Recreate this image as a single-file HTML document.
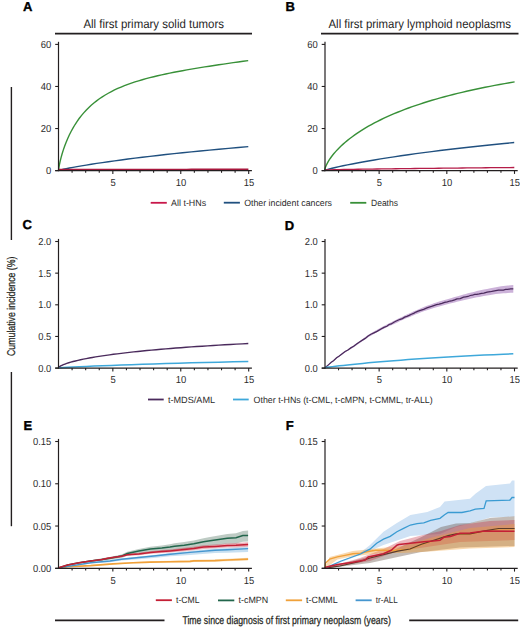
<!DOCTYPE html><html><head><meta charset="utf-8"><style>html,body{margin:0;padding:0;background:#fff;width:520px;height:632px;overflow:hidden}svg{display:block}
text{font-family:'Liberation Sans',sans-serif;fill:#231f20;text-rendering:geometricPrecision}
.tk{font-size:10.2px;fill:#2b2b2b}.lg{font-size:9.1px;fill:#2b2b2b}.pl{font-size:13px;font-weight:bold;fill:#000;stroke:#000;stroke-width:0.35px}.ti{font-size:12.2px;fill:#262626}.cx{font-size:11.3px;stroke:#231f20;stroke-width:0.25px}
</style></head><body>
<svg width="520" height="632" viewBox="0 0 520 632">
<text x="23" y="11" class="pl">A</text>
<text x="285.6" y="11" class="pl">B</text>
<text x="22.6" y="229.4" class="pl">C</text>
<text x="284.8" y="229.5" class="pl">D</text>
<text x="23.6" y="429.9" class="pl">E</text>
<text x="285.8" y="430" class="pl">F</text>
<text x="83.4" y="27.8" class="ti" textLength="140.6" lengthAdjust="spacingAndGlyphs">All first primary solid tumors</text>
<text x="328.5" y="27.8" class="ti" textLength="182.5" lengthAdjust="spacingAndGlyphs">All first primary lymphoid neoplasms</text>
<line x1="55" y1="33.6" x2="252" y2="33.6" stroke="#231f20" stroke-width="1.8"/>
<line x1="321" y1="33.6" x2="518.5" y2="33.6" stroke="#231f20" stroke-width="1.8"/>
<path d="M58.50 170.60 L58.77 168.34 L59.32 165.16 L60.07 161.61 L60.99 157.86 L62.06 154.01 L63.27 150.13 L64.60 146.25 L66.05 142.43 L67.62 138.68 L69.29 135.03 L71.07 131.48 L72.94 128.06 L74.92 124.75 L76.99 121.58 L79.14 118.54 L81.39 115.63 L83.72 112.85 L86.14 110.21 L88.63 107.69 L91.21 105.29 L93.87 103.01 L96.60 100.85 L99.41 98.79 L102.29 96.85 L105.24 94.99 L108.27 93.24 L111.37 91.57 L114.54 89.99 L117.77 88.48 L121.08 87.05 L124.45 85.68 L127.88 84.38 L131.39 83.14 L134.95 81.96 L138.58 80.82 L142.27 79.73 L146.03 78.69 L149.84 77.68 L153.72 76.71 L157.66 75.78 L161.65 74.87 L165.71 73.99 L169.82 73.14 L173.99 72.30 L178.22 71.49 L182.50 70.70 L186.85 69.92 L191.24 69.16 L195.70 68.40 L200.20 67.66 L204.76 66.93 L209.38 66.21 L214.05 65.49 L218.77 64.78 L223.55 64.07 L228.37 63.37 L233.25 62.67 L238.18 61.97 L243.17 61.28 L248.20 60.58" fill="none" stroke="#389038" stroke-width="1.4"/>
<path d="M58.60 170.50 L59.42 170.24 L61.09 169.81 L63.37 169.29 L66.15 168.70 L69.39 168.06 L73.04 167.37 L77.09 166.64 L81.49 165.87 L86.24 165.08 L91.31 164.27 L96.70 163.43 L102.39 162.58 L108.37 161.72 L114.64 160.84 L121.18 159.95 L127.98 159.06 L135.05 158.16 L142.37 157.26 L149.94 156.36 L157.76 155.45 L165.81 154.55 L174.09 153.65 L182.60 152.75 L191.34 151.86 L200.30 150.97 L209.48 150.09 L218.87 149.22 L228.47 148.35 L238.28 147.50 L248.30 146.65" fill="none" stroke="#20507f" stroke-width="1.4"/>
<path d="M58.50 169.60 L63.25 169.58 L68.00 169.57 L72.74 169.56 L77.49 169.55 L82.24 169.54 L86.98 169.53 L91.73 169.53 L96.48 169.52 L101.23 169.51 L105.97 169.50 L110.72 169.49 L115.47 169.49 L120.22 169.48 L124.97 169.47 L129.71 169.46 L134.46 169.46 L139.21 169.45 L143.95 169.44 L148.70 169.43 L153.45 169.43 L158.20 169.42 L162.94 169.41 L167.69 169.41 L172.44 169.40 L177.19 169.39 L181.94 169.39 L186.68 169.38 L191.43 169.37 L196.18 169.37 L200.93 169.36 L205.67 169.36 L210.42 169.35 L215.17 169.34 L219.91 169.34 L224.66 169.33 L229.41 169.32 L234.16 169.32 L238.91 169.31 L243.65 169.31 L248.40 169.30" fill="none" stroke="#a8173c" stroke-width="1.5"/>
<path d="M324.60 170.50 L324.87 169.04 L325.42 167.31 L326.17 165.47 L327.09 163.58 L328.17 161.65 L329.37 159.70 L330.71 157.74 L332.16 155.77 L333.73 153.81 L335.41 151.85 L337.19 149.90 L339.07 147.96 L341.04 146.04 L343.11 144.13 L345.28 142.24 L347.52 140.37 L349.86 138.52 L352.28 136.69 L354.78 134.89 L357.36 133.11 L360.02 131.35 L362.76 129.62 L365.57 127.91 L368.46 126.22 L371.42 124.57 L374.45 122.93 L377.55 121.33 L380.73 119.75 L383.97 118.19 L387.28 116.66 L390.65 115.16 L394.09 113.68 L397.60 112.23 L401.17 110.80 L404.81 109.40 L408.51 108.02 L412.27 106.67 L416.09 105.34 L419.97 104.04 L423.91 102.76 L427.92 101.51 L431.98 100.28 L436.10 99.07 L440.27 97.89 L444.51 96.73 L448.80 95.59 L453.15 94.47 L457.55 93.38 L462.01 92.31 L466.53 91.26 L471.10 90.23 L475.72 89.22 L480.39 88.24 L485.12 87.27 L489.91 86.32 L494.74 85.40 L499.63 84.49 L504.57 83.60 L509.56 82.73 L514.60 81.88" fill="none" stroke="#389038" stroke-width="1.4"/>
<path d="M324.60 170.50 L325.42 170.18 L327.09 169.65 L329.36 169.02 L332.15 168.30 L335.38 167.52 L339.04 166.68 L343.08 165.80 L347.48 164.89 L352.22 163.94 L357.29 162.97 L362.68 161.98 L368.37 160.97 L374.35 159.95 L380.61 158.91 L387.14 157.87 L393.95 156.82 L401.01 155.77 L408.33 154.72 L415.90 153.67 L423.70 152.62 L431.75 151.58 L440.03 150.54 L448.54 149.51 L457.27 148.48 L466.23 147.46 L475.40 146.46 L484.79 145.46 L494.38 144.48 L504.19 143.51 L514.20 142.55" fill="none" stroke="#20507f" stroke-width="1.4"/>
<path d="M325.10 170.00 L329.83 169.81 L334.56 169.69 L339.29 169.59 L344.02 169.50 L348.75 169.42 L353.48 169.34 L358.21 169.26 L362.94 169.19 L367.67 169.12 L372.40 169.05 L377.13 168.99 L381.86 168.92 L386.59 168.86 L391.32 168.80 L396.05 168.74 L400.78 168.68 L405.51 168.63 L410.24 168.57 L414.97 168.52 L419.70 168.46 L424.43 168.41 L429.16 168.35 L433.89 168.30 L438.62 168.25 L443.35 168.20 L448.08 168.15 L452.81 168.10 L457.54 168.05 L462.27 168.00 L467.00 167.96 L471.73 167.91 L476.46 167.86 L481.19 167.81 L485.92 167.77 L490.65 167.72 L495.38 167.68 L500.11 167.63 L504.84 167.59 L509.57 167.54 L514.30 167.50" fill="none" stroke="#b51c48" stroke-width="1.3"/>
<path d="M58.60 367.80 L58.96 367.22 L59.70 366.59 L60.70 365.96 L61.93 365.32 L63.37 364.68 L64.98 364.04 L66.76 363.41 L68.71 362.78 L70.80 362.16 L73.04 361.55 L75.42 360.95 L77.94 360.35 L80.58 359.76 L83.35 359.18 L86.24 358.60 L89.24 358.04 L92.36 357.48 L95.60 356.93 L98.94 356.39 L102.39 355.86 L105.94 355.34 L109.60 354.82 L113.36 354.31 L117.22 353.82 L121.18 353.33 L125.23 352.84 L129.38 352.37 L133.62 351.91 L137.95 351.45 L142.37 351.00 L146.89 350.56 L151.49 350.12 L156.17 349.70 L160.95 349.28 L165.81 348.87 L170.75 348.46 L175.78 348.07 L180.88 347.68 L186.07 347.29 L191.34 346.92 L196.69 346.55 L202.12 346.19 L207.63 345.83 L213.21 345.48 L218.87 345.14 L224.61 344.81 L230.42 344.48 L236.31 344.15 L242.27 343.84 L248.30 343.52" fill="none" stroke="#4a2a5c" stroke-width="1.4"/>
<path d="M58.60 367.80 L60.17 367.72 L63.37 367.56 L67.72 367.34 L73.04 367.08 L79.24 366.79 L86.24 366.47 L93.97 366.12 L102.39 365.77 L111.47 365.40 L121.18 365.03 L131.49 364.65 L142.37 364.28 L153.82 363.91 L165.81 363.54 L178.32 363.18 L191.34 362.83 L204.86 362.50 L218.87 362.17 L233.35 361.86 L248.30 361.57" fill="none" stroke="#3ea8da" stroke-width="1.5"/>
<path d="M325.10 367.30 L328.94 363.94 L331.22 361.96 L333.50 359.99 L336.56 357.46 L339.30 355.30 L342.21 353.10 L345.10 351.02 L347.95 349.16 L350.80 347.33 L353.69 345.31 L356.60 343.24 L359.51 341.19 L362.40 339.14 L365.25 337.06 L368.10 335.05 L370.91 333.29 L373.90 331.55 L377.03 329.73 L381.00 327.53 L383.93 325.98 L386.86 324.43 L389.07 323.29 L391.29 322.15 L393.50 321.01 L395.71 319.91 L397.93 318.82 L400.14 317.72 L402.39 316.64 L404.65 315.56 L406.90 314.48 L409.15 313.44 L411.40 312.41 L413.65 311.37 L415.90 310.39 L418.15 309.42 L420.40 308.44 L423.67 307.12 L426.93 305.79 L429.22 304.96 L431.51 304.13 L433.80 303.29 L436.50 302.45 L439.20 301.61 L441.89 300.76 L444.60 299.98 L447.30 299.19 L450.00 298.40 L452.31 297.72 L454.62 297.05 L456.93 296.38 L460.21 295.46 L463.50 294.55 L465.73 293.95 L467.97 293.35 L470.20 292.76 L472.43 292.20 L474.67 291.65 L476.90 291.09 L479.21 290.59 L481.51 290.08 L483.82 289.57 L487.11 288.90 L490.40 288.24 L493.12 287.71 L495.83 287.18 L498.47 286.76 L501.10 286.33 L503.36 286.09 L505.61 285.84 L507.87 285.60 L510.58 285.35 L513.30 285.10 L513.30 292.70 L510.58 292.84 L507.87 292.99 L505.61 293.15 L503.36 293.31 L501.10 293.47 L498.47 293.79 L495.83 294.12 L493.12 294.54 L490.40 294.96 L487.11 295.50 L483.82 296.04 L481.51 296.46 L479.21 296.88 L476.90 297.31 L474.67 297.78 L472.43 298.25 L470.20 298.72 L467.97 299.23 L465.73 299.74 L463.50 300.25 L460.21 301.05 L456.93 301.84 L454.62 302.43 L452.31 303.02 L450.00 303.60 L447.30 304.29 L444.60 304.98 L441.89 305.67 L439.20 306.42 L436.50 307.16 L433.80 307.91 L431.51 308.66 L429.22 309.41 L426.93 310.16 L423.67 311.36 L420.40 312.56 L418.15 313.46 L415.90 314.36 L413.65 315.25 L411.40 316.21 L409.15 317.17 L406.90 318.12 L404.65 319.12 L402.39 320.12 L400.14 321.12 L397.93 322.14 L395.71 323.16 L393.50 324.19 L391.29 325.25 L389.07 326.31 L386.86 327.37 L383.93 328.82 L381.00 330.27 L377.03 332.33 L373.90 334.05 L370.91 335.69 L368.10 337.35 L365.25 339.27 L362.40 341.26 L359.51 343.21 L356.60 345.16 L353.69 347.14 L350.80 349.07 L347.95 350.81 L345.10 352.58 L342.21 354.58 L339.30 356.70 L336.56 358.77 L333.50 361.21 L331.22 363.12 L328.94 365.04 L325.10 368.30 Z" fill="#ccb2d9" stroke="none"/>
<path d="M325.10 367.80 L328.94 364.36 L331.22 362.30 L333.50 360.71 L336.56 357.81 L339.30 356.03 L342.21 353.74 L345.10 351.49 L347.95 349.99 L350.80 347.88 L353.69 346.18 L356.60 343.90 L359.51 341.91 L362.40 340.15 L365.25 338.39 L368.10 335.94 L370.91 334.30 L373.90 332.89 L377.03 331.34 L381.00 328.95 L383.93 327.33 L386.86 326.23 L389.07 324.48 L391.29 323.95 L393.50 322.45 L395.71 321.29 L397.93 320.21 L400.14 319.28 L402.39 318.60 L404.65 317.12 L406.90 316.36 L409.15 315.40 L411.40 314.22 L413.65 313.35 L415.90 312.07 L418.15 311.13 L420.40 310.29 L423.67 309.36 L426.93 307.92 L429.22 307.05 L431.51 306.45 L433.80 305.57 L436.50 304.67 L439.20 304.22 L441.89 303.36 L444.60 302.30 L447.30 301.79 L450.00 301.02 L452.31 300.63 L454.62 299.90 L456.93 298.96 L460.21 298.59 L463.50 297.13 L465.73 296.79 L467.97 296.47 L470.20 295.49 L472.43 295.22 L474.67 294.39 L476.90 294.32 L479.21 293.92 L481.51 293.32 L483.82 293.07 L487.11 292.07 L490.40 291.74 L493.12 291.19 L495.83 290.71 L498.47 290.24 L501.10 290.14 L503.36 290.01 L505.61 289.48 L507.87 289.41 L510.58 288.79 L513.30 288.90" fill="none" stroke="#4a2a5c" stroke-width="1.25"/>
<path d="M324.90 367.60 L325.72 367.48 L327.37 367.26 L329.63 366.97 L332.40 366.63 L335.62 366.25 L339.25 365.83 L343.26 365.38 L347.63 364.91 L352.35 364.42 L357.39 363.91 L362.74 363.39 L368.39 362.86 L374.33 362.32 L380.55 361.78 L387.05 361.23 L393.81 360.69 L400.83 360.15 L408.10 359.61 L415.62 359.07 L423.38 358.54 L431.37 358.02 L439.60 357.51 L448.05 357.01 L456.73 356.52 L465.63 356.04 L474.75 355.57 L484.07 355.12 L493.61 354.68 L503.35 354.25 L513.30 353.83" fill="none" stroke="#3ea8da" stroke-width="1.5"/>
<path d="M58.60 567.72 L67.50 564.76 L79.10 562.21 L90.60 560.16 L102.10 558.29 L110.00 556.91 L121.50 554.53 L127.30 551.79 L138.80 549.10 L150.40 546.81 L161.90 545.52 L170.00 544.31 L174.60 543.29 L184.20 542.04 L193.80 540.39 L203.50 538.14 L210.00 536.96 L218.70 535.43 L227.30 533.90 L236.00 533.17 L242.90 530.88 L248.10 530.54 L248.10 541.61 L242.90 541.63 L236.00 543.49 L227.30 543.69 L218.70 544.70 L210.00 545.70 L203.50 546.48 L193.80 548.15 L184.20 549.23 L174.60 549.92 L170.00 550.66 L161.90 551.40 L150.40 552.02 L138.80 553.65 L127.30 555.69 L121.50 558.11 L110.00 559.85 L102.10 560.81 L90.60 562.08 L79.10 563.55 L67.50 565.54 L58.60 568.13 Z" fill="#b3c2ba" fill-opacity="0.85"/>
<path d="M58.60 567.70 L59.50 567.28 L67.50 564.77 L79.10 562.32 L90.60 560.38 L102.10 558.64 L107.90 557.37 L116.00 556.18 L121.50 555.32 L127.30 553.76 L138.80 552.83 L150.40 551.21 L161.90 550.08 L170.00 549.40 L174.60 548.95 L184.20 547.85 L193.80 546.85 L203.50 545.25 L215.00 544.43 L227.30 543.41 L236.00 543.12 L248.10 542.20 L248.10 546.80 L236.00 547.48 L227.30 547.59 L215.00 548.37 L203.50 548.95 L193.80 550.35 L184.20 551.15 L174.60 552.05 L170.00 552.40 L161.90 552.92 L150.40 553.79 L138.80 555.17 L127.30 555.84 L121.50 557.28 L116.00 558.02 L107.90 559.03 L102.10 560.16 L90.60 561.62 L79.10 563.28 L67.50 565.43 L59.50 567.72 L58.60 568.10 Z" fill="#c41f35" fill-opacity="0.36"/>
<path d="M58.60 567.76 L90.60 562.19 L110.00 560.30 L121.50 558.39 L138.80 556.52 L156.10 554.66 L170.00 552.93 L190.00 550.95 L215.00 548.53 L227.30 547.92 L248.10 546.64 L248.10 551.96 L227.30 552.75 L215.00 553.06 L190.00 554.88 L170.00 556.37 L156.10 557.76 L138.80 559.18 L121.50 560.60 L110.00 562.20 L90.60 563.57 L58.60 568.14 Z" fill="#4596cf" fill-opacity="0.30"/>
<path d="M58.60 567.70 L67.50 566.50 L90.60 565.11 L113.00 563.26 L133.10 561.93 L150.40 561.23 L170.00 560.82 L190.00 560.30 L193.80 559.78 L215.00 559.37 L227.30 558.71 L248.10 557.70 L248.10 560.50 L227.30 561.29 L215.00 561.83 L193.80 562.02 L190.00 562.50 L170.00 562.78 L150.40 562.97 L133.10 563.47 L113.00 564.54 L90.60 566.09 L67.50 567.10 L58.60 568.10 Z" fill="#f0a13a" fill-opacity="0.30"/>
<path d="M58.60 567.90 L67.50 566.80 L90.60 565.60 L113.00 563.90 L133.10 562.70 L150.40 562.10 L170.00 561.80 L190.00 561.40 L193.80 560.90 L215.00 560.60 L227.30 560.00 L248.10 559.10" fill="none" stroke="#f0a13a" stroke-width="1.6"/>
<path d="M58.60 567.90 L90.60 562.70 L110.00 561.00 L121.50 559.20 L138.80 557.50 L156.10 555.80 L170.00 554.20 L190.00 552.40 L215.00 550.20 L227.30 549.70 L248.10 548.60" fill="none" stroke="#4596cf" stroke-width="1.4"/>
<path d="M58.60 567.90 L67.50 565.10 L79.10 562.80 L90.60 561.00 L102.10 559.40 L110.00 558.20 L121.50 556.10 L127.30 553.50 L138.80 551.10 L150.40 549.10 L161.90 548.10 L170.00 547.10 L174.60 546.20 L184.20 545.20 L193.80 543.80 L203.50 541.80 L210.00 540.80 L218.70 539.50 L227.30 538.20 L236.00 537.70 L242.90 535.60 L248.10 535.40" fill="none" stroke="#22664c" stroke-width="1.5"/>
<path d="M58.60 567.90 L59.50 567.50 L67.50 565.10 L79.10 562.80 L90.60 561.00 L102.10 559.40 L107.90 558.20 L116.00 557.10 L121.50 556.30 L127.30 554.80 L138.80 554.00 L150.40 552.50 L161.90 551.50 L170.00 550.90 L174.60 550.50 L184.20 549.50 L193.80 548.60 L203.50 547.10 L215.00 546.40 L227.30 545.50 L236.00 545.30 L248.10 544.50" fill="none" stroke="#c41f35" stroke-width="1.5"/>
<path d="M325.10 568.00 L360.00 553.00 L370.00 545.00 L383.50 531.70 L396.90 523.00 L410.40 514.90 L427.30 511.90 L440.00 507.00 L444.60 501.50 L470.00 498.70 L475.40 493.80 L486.00 486.00 L510.00 483.50 L512.00 480.50 L514.50 480.50 L514.50 516.50 L490.00 517.50 L470.00 523.40 L456.00 527.00 L440.00 534.00 L410.40 536.00 L383.50 545.00 L365.00 553.00 L325.10 568.50 Z" fill="#cfe2f5"/>
<path d="M325.10 568.00 L360.00 559.00 L393.80 550.00 L421.50 537.00 L441.00 527.00 L456.00 523.40 L470.00 522.90 L490.00 518.00 L514.50 516.20 L514.50 546.00 L460.00 547.50 L420.00 552.30 L397.70 557.00 L370.00 563.00 L325.10 568.50 Z" fill="#6a5448" fill-opacity="0.40"/>
<path d="M325.10 568.00 L360.00 558.00 L383.50 549.00 L400.00 541.00 L423.00 535.00 L441.00 531.00 L460.00 525.00 L490.00 521.00 L514.50 520.00 L514.50 540.00 L460.00 542.00 L420.00 548.00 L397.70 551.00 L370.00 561.00 L325.10 568.50 Z" fill="#c41f35" fill-opacity="0.32"/>
<path d="M325.10 568.00 L329.70 557.00 L352.80 551.00 L383.50 547.70 L402.00 546.00 L430.00 538.00 L470.00 528.00 L514.50 524.00 L514.50 547.00 L470.00 548.50 L430.00 551.50 L402.00 553.00 L383.50 553.10 L352.80 556.20 L337.40 559.50 L325.10 568.50 Z" fill="#f0a13a" fill-opacity="0.40"/>
<path d="M325.10 568.20 L325.60 563.10 L329.70 559.20 L337.40 556.90 L345.10 555.40 L352.80 553.80 L360.50 553.10 L368.20 551.50 L375.80 550.30 L383.50 550.30 L391.20 550.80 L402.00 549.70 L410.00 549.20 L421.50 544.50 L448.10 535.90 L456.10 534.10 L470.00 534.10 L484.60 531.10 L498.50 528.80 L514.50 528.80" fill="none" stroke="#f0a13a" stroke-width="1.4"/>
<path d="M325.10 568.20 L340.00 566.00 L360.00 561.50 L370.00 558.00 L397.70 551.20 L410.00 549.00 L421.50 544.20 L448.10 535.60 L456.10 533.80 L470.00 533.80 L484.60 530.80 L498.50 528.50 L514.50 528.50" fill="none" stroke="#5a3c2c" stroke-width="1.2"/>
<path d="M325.10 568.20 L341.20 561.00 L350.80 557.50 L360.50 554.00 L365.00 551.50 L370.00 549.20 L376.70 543.20 L383.50 539.10 L390.20 536.40 L396.90 531.70 L403.60 528.40 L410.40 525.00 L417.10 523.60 L423.80 522.90 L430.60 520.30 L440.00 518.30 L444.60 514.80 L448.10 512.50 L461.90 512.50 L470.00 510.80 L475.40 509.20 L484.00 508.50 L486.20 500.80 L510.00 500.20 L512.00 497.50 L514.50 497.50" fill="none" stroke="#3a9bd2" stroke-width="1.3"/>
<path d="M325.10 568.20 L325.80 567.20 L337.40 564.60 L352.80 562.30 L365.10 560.00 L368.20 556.90 L383.50 553.80 L391.20 550.30 L396.90 545.20 L398.90 544.60 L410.40 543.20 L423.80 541.80 L433.10 541.00 L440.00 540.30 L443.80 537.30 L450.40 536.50 L460.00 533.20 L470.00 533.00 L484.60 530.90 L514.50 531.30" fill="none" stroke="#c41f35" stroke-width="1.5"/>
<line x1="58.50" y1="41.80" x2="58.50" y2="171.20" stroke="#231f20" stroke-width="1.2"/>
<line x1="55.20" y1="170.60" x2="251.90" y2="170.60" stroke="#231f20" stroke-width="1.2"/>
<line x1="55.20" y1="170.60" x2="58.50" y2="170.60" stroke="#231f20" stroke-width="1.1"/>
<text x="51.20" y="174.15" text-anchor="end" class="tk" textLength="5.25" lengthAdjust="spacingAndGlyphs">0</text>
<line x1="55.20" y1="128.53" x2="58.50" y2="128.53" stroke="#231f20" stroke-width="1.1"/>
<text x="51.20" y="132.08" text-anchor="end" class="tk" textLength="10.50" lengthAdjust="spacingAndGlyphs">20</text>
<line x1="55.20" y1="86.47" x2="58.50" y2="86.47" stroke="#231f20" stroke-width="1.1"/>
<text x="51.20" y="90.02" text-anchor="end" class="tk" textLength="10.50" lengthAdjust="spacingAndGlyphs">40</text>
<line x1="55.20" y1="44.40" x2="58.50" y2="44.40" stroke="#231f20" stroke-width="1.1"/>
<text x="51.20" y="47.95" text-anchor="end" class="tk" textLength="10.50" lengthAdjust="spacingAndGlyphs">60</text>
<line x1="72.09" y1="170.60" x2="72.09" y2="172.80" stroke="#231f20" stroke-width="1.1"/>
<line x1="85.67" y1="170.60" x2="85.67" y2="172.80" stroke="#231f20" stroke-width="1.1"/>
<line x1="99.26" y1="170.60" x2="99.26" y2="172.80" stroke="#231f20" stroke-width="1.1"/>
<line x1="112.84" y1="170.60" x2="112.84" y2="173.90" stroke="#231f20" stroke-width="1.1"/>
<text x="113.04" y="185.90" text-anchor="middle" class="tk" textLength="5.25" lengthAdjust="spacingAndGlyphs">5</text>
<line x1="126.43" y1="170.60" x2="126.43" y2="172.80" stroke="#231f20" stroke-width="1.1"/>
<line x1="140.01" y1="170.60" x2="140.01" y2="172.80" stroke="#231f20" stroke-width="1.1"/>
<line x1="153.60" y1="170.60" x2="153.60" y2="172.80" stroke="#231f20" stroke-width="1.1"/>
<line x1="167.19" y1="170.60" x2="167.19" y2="172.80" stroke="#231f20" stroke-width="1.1"/>
<line x1="180.77" y1="170.60" x2="180.77" y2="173.90" stroke="#231f20" stroke-width="1.1"/>
<text x="180.97" y="185.90" text-anchor="middle" class="tk" textLength="10.50" lengthAdjust="spacingAndGlyphs">10</text>
<line x1="194.36" y1="170.60" x2="194.36" y2="172.80" stroke="#231f20" stroke-width="1.1"/>
<line x1="207.94" y1="170.60" x2="207.94" y2="172.80" stroke="#231f20" stroke-width="1.1"/>
<line x1="221.53" y1="170.60" x2="221.53" y2="172.80" stroke="#231f20" stroke-width="1.1"/>
<line x1="235.11" y1="170.60" x2="235.11" y2="172.80" stroke="#231f20" stroke-width="1.1"/>
<line x1="248.70" y1="170.60" x2="248.70" y2="173.90" stroke="#231f20" stroke-width="1.1"/>
<text x="248.90" y="185.90" text-anchor="middle" class="tk" textLength="10.50" lengthAdjust="spacingAndGlyphs">15</text>
<line x1="325.00" y1="41.80" x2="325.00" y2="171.20" stroke="#231f20" stroke-width="1.2"/>
<line x1="321.70" y1="170.60" x2="517.70" y2="170.60" stroke="#231f20" stroke-width="1.2"/>
<line x1="321.70" y1="170.60" x2="325.00" y2="170.60" stroke="#231f20" stroke-width="1.1"/>
<text x="317.70" y="174.15" text-anchor="end" class="tk" textLength="5.25" lengthAdjust="spacingAndGlyphs">0</text>
<line x1="321.70" y1="128.53" x2="325.00" y2="128.53" stroke="#231f20" stroke-width="1.1"/>
<text x="317.70" y="132.08" text-anchor="end" class="tk" textLength="10.50" lengthAdjust="spacingAndGlyphs">20</text>
<line x1="321.70" y1="86.47" x2="325.00" y2="86.47" stroke="#231f20" stroke-width="1.1"/>
<text x="317.70" y="90.02" text-anchor="end" class="tk" textLength="10.50" lengthAdjust="spacingAndGlyphs">40</text>
<line x1="321.70" y1="44.40" x2="325.00" y2="44.40" stroke="#231f20" stroke-width="1.1"/>
<text x="317.70" y="47.95" text-anchor="end" class="tk" textLength="10.50" lengthAdjust="spacingAndGlyphs">60</text>
<line x1="338.54" y1="170.60" x2="338.54" y2="172.80" stroke="#231f20" stroke-width="1.1"/>
<line x1="352.07" y1="170.60" x2="352.07" y2="172.80" stroke="#231f20" stroke-width="1.1"/>
<line x1="365.61" y1="170.60" x2="365.61" y2="172.80" stroke="#231f20" stroke-width="1.1"/>
<line x1="379.14" y1="170.60" x2="379.14" y2="173.90" stroke="#231f20" stroke-width="1.1"/>
<text x="379.34" y="185.90" text-anchor="middle" class="tk" textLength="5.25" lengthAdjust="spacingAndGlyphs">5</text>
<line x1="392.68" y1="170.60" x2="392.68" y2="172.80" stroke="#231f20" stroke-width="1.1"/>
<line x1="406.21" y1="170.60" x2="406.21" y2="172.80" stroke="#231f20" stroke-width="1.1"/>
<line x1="419.75" y1="170.60" x2="419.75" y2="172.80" stroke="#231f20" stroke-width="1.1"/>
<line x1="433.29" y1="170.60" x2="433.29" y2="172.80" stroke="#231f20" stroke-width="1.1"/>
<line x1="446.82" y1="170.60" x2="446.82" y2="173.90" stroke="#231f20" stroke-width="1.1"/>
<text x="447.02" y="185.90" text-anchor="middle" class="tk" textLength="10.50" lengthAdjust="spacingAndGlyphs">10</text>
<line x1="460.36" y1="170.60" x2="460.36" y2="172.80" stroke="#231f20" stroke-width="1.1"/>
<line x1="473.89" y1="170.60" x2="473.89" y2="172.80" stroke="#231f20" stroke-width="1.1"/>
<line x1="487.43" y1="170.60" x2="487.43" y2="172.80" stroke="#231f20" stroke-width="1.1"/>
<line x1="500.96" y1="170.60" x2="500.96" y2="172.80" stroke="#231f20" stroke-width="1.1"/>
<line x1="514.50" y1="170.60" x2="514.50" y2="173.90" stroke="#231f20" stroke-width="1.1"/>
<text x="514.70" y="185.90" text-anchor="middle" class="tk" textLength="10.50" lengthAdjust="spacingAndGlyphs">15</text>
<line x1="58.50" y1="238.90" x2="58.50" y2="368.70" stroke="#231f20" stroke-width="1.2"/>
<line x1="55.20" y1="368.10" x2="251.90" y2="368.10" stroke="#231f20" stroke-width="1.2"/>
<line x1="55.20" y1="368.10" x2="58.50" y2="368.10" stroke="#231f20" stroke-width="1.1"/>
<text x="51.20" y="371.65" text-anchor="end" class="tk" textLength="13.00" lengthAdjust="spacingAndGlyphs">0.0</text>
<line x1="55.20" y1="336.45" x2="58.50" y2="336.45" stroke="#231f20" stroke-width="1.1"/>
<text x="51.20" y="340.00" text-anchor="end" class="tk" textLength="13.00" lengthAdjust="spacingAndGlyphs">0.5</text>
<line x1="55.20" y1="304.80" x2="58.50" y2="304.80" stroke="#231f20" stroke-width="1.1"/>
<text x="51.20" y="308.35" text-anchor="end" class="tk" textLength="13.00" lengthAdjust="spacingAndGlyphs">1.0</text>
<line x1="55.20" y1="273.15" x2="58.50" y2="273.15" stroke="#231f20" stroke-width="1.1"/>
<text x="51.20" y="276.70" text-anchor="end" class="tk" textLength="13.00" lengthAdjust="spacingAndGlyphs">1.5</text>
<line x1="55.20" y1="241.50" x2="58.50" y2="241.50" stroke="#231f20" stroke-width="1.1"/>
<text x="51.20" y="245.05" text-anchor="end" class="tk" textLength="13.00" lengthAdjust="spacingAndGlyphs">2.0</text>
<line x1="72.09" y1="368.10" x2="72.09" y2="370.30" stroke="#231f20" stroke-width="1.1"/>
<line x1="85.67" y1="368.10" x2="85.67" y2="370.30" stroke="#231f20" stroke-width="1.1"/>
<line x1="99.26" y1="368.10" x2="99.26" y2="370.30" stroke="#231f20" stroke-width="1.1"/>
<line x1="112.84" y1="368.10" x2="112.84" y2="371.40" stroke="#231f20" stroke-width="1.1"/>
<text x="113.04" y="383.40" text-anchor="middle" class="tk" textLength="5.25" lengthAdjust="spacingAndGlyphs">5</text>
<line x1="126.43" y1="368.10" x2="126.43" y2="370.30" stroke="#231f20" stroke-width="1.1"/>
<line x1="140.01" y1="368.10" x2="140.01" y2="370.30" stroke="#231f20" stroke-width="1.1"/>
<line x1="153.60" y1="368.10" x2="153.60" y2="370.30" stroke="#231f20" stroke-width="1.1"/>
<line x1="167.19" y1="368.10" x2="167.19" y2="370.30" stroke="#231f20" stroke-width="1.1"/>
<line x1="180.77" y1="368.10" x2="180.77" y2="371.40" stroke="#231f20" stroke-width="1.1"/>
<text x="180.97" y="383.40" text-anchor="middle" class="tk" textLength="10.50" lengthAdjust="spacingAndGlyphs">10</text>
<line x1="194.36" y1="368.10" x2="194.36" y2="370.30" stroke="#231f20" stroke-width="1.1"/>
<line x1="207.94" y1="368.10" x2="207.94" y2="370.30" stroke="#231f20" stroke-width="1.1"/>
<line x1="221.53" y1="368.10" x2="221.53" y2="370.30" stroke="#231f20" stroke-width="1.1"/>
<line x1="235.11" y1="368.10" x2="235.11" y2="370.30" stroke="#231f20" stroke-width="1.1"/>
<line x1="248.70" y1="368.10" x2="248.70" y2="371.40" stroke="#231f20" stroke-width="1.1"/>
<text x="248.90" y="383.40" text-anchor="middle" class="tk" textLength="10.50" lengthAdjust="spacingAndGlyphs">15</text>
<line x1="325.00" y1="238.90" x2="325.00" y2="368.70" stroke="#231f20" stroke-width="1.2"/>
<line x1="321.70" y1="368.10" x2="517.70" y2="368.10" stroke="#231f20" stroke-width="1.2"/>
<line x1="321.70" y1="368.10" x2="325.00" y2="368.10" stroke="#231f20" stroke-width="1.1"/>
<text x="317.70" y="371.65" text-anchor="end" class="tk" textLength="13.00" lengthAdjust="spacingAndGlyphs">0.0</text>
<line x1="321.70" y1="336.45" x2="325.00" y2="336.45" stroke="#231f20" stroke-width="1.1"/>
<text x="317.70" y="340.00" text-anchor="end" class="tk" textLength="13.00" lengthAdjust="spacingAndGlyphs">0.5</text>
<line x1="321.70" y1="304.80" x2="325.00" y2="304.80" stroke="#231f20" stroke-width="1.1"/>
<text x="317.70" y="308.35" text-anchor="end" class="tk" textLength="13.00" lengthAdjust="spacingAndGlyphs">1.0</text>
<line x1="321.70" y1="273.15" x2="325.00" y2="273.15" stroke="#231f20" stroke-width="1.1"/>
<text x="317.70" y="276.70" text-anchor="end" class="tk" textLength="13.00" lengthAdjust="spacingAndGlyphs">1.5</text>
<line x1="321.70" y1="241.50" x2="325.00" y2="241.50" stroke="#231f20" stroke-width="1.1"/>
<text x="317.70" y="245.05" text-anchor="end" class="tk" textLength="13.00" lengthAdjust="spacingAndGlyphs">2.0</text>
<line x1="338.54" y1="368.10" x2="338.54" y2="370.30" stroke="#231f20" stroke-width="1.1"/>
<line x1="352.07" y1="368.10" x2="352.07" y2="370.30" stroke="#231f20" stroke-width="1.1"/>
<line x1="365.61" y1="368.10" x2="365.61" y2="370.30" stroke="#231f20" stroke-width="1.1"/>
<line x1="379.14" y1="368.10" x2="379.14" y2="371.40" stroke="#231f20" stroke-width="1.1"/>
<text x="379.34" y="383.40" text-anchor="middle" class="tk" textLength="5.25" lengthAdjust="spacingAndGlyphs">5</text>
<line x1="392.68" y1="368.10" x2="392.68" y2="370.30" stroke="#231f20" stroke-width="1.1"/>
<line x1="406.21" y1="368.10" x2="406.21" y2="370.30" stroke="#231f20" stroke-width="1.1"/>
<line x1="419.75" y1="368.10" x2="419.75" y2="370.30" stroke="#231f20" stroke-width="1.1"/>
<line x1="433.29" y1="368.10" x2="433.29" y2="370.30" stroke="#231f20" stroke-width="1.1"/>
<line x1="446.82" y1="368.10" x2="446.82" y2="371.40" stroke="#231f20" stroke-width="1.1"/>
<text x="447.02" y="383.40" text-anchor="middle" class="tk" textLength="10.50" lengthAdjust="spacingAndGlyphs">10</text>
<line x1="460.36" y1="368.10" x2="460.36" y2="370.30" stroke="#231f20" stroke-width="1.1"/>
<line x1="473.89" y1="368.10" x2="473.89" y2="370.30" stroke="#231f20" stroke-width="1.1"/>
<line x1="487.43" y1="368.10" x2="487.43" y2="370.30" stroke="#231f20" stroke-width="1.1"/>
<line x1="500.96" y1="368.10" x2="500.96" y2="370.30" stroke="#231f20" stroke-width="1.1"/>
<line x1="514.50" y1="368.10" x2="514.50" y2="371.40" stroke="#231f20" stroke-width="1.1"/>
<text x="514.70" y="383.40" text-anchor="middle" class="tk" textLength="10.50" lengthAdjust="spacingAndGlyphs">15</text>
<line x1="58.50" y1="438.90" x2="58.50" y2="568.90" stroke="#231f20" stroke-width="1.2"/>
<line x1="55.20" y1="568.30" x2="251.90" y2="568.30" stroke="#231f20" stroke-width="1.2"/>
<line x1="55.20" y1="568.30" x2="58.50" y2="568.30" stroke="#231f20" stroke-width="1.1"/>
<text x="51.20" y="571.85" text-anchor="end" class="tk" textLength="18.25" lengthAdjust="spacingAndGlyphs">0.00</text>
<line x1="55.20" y1="526.03" x2="58.50" y2="526.03" stroke="#231f20" stroke-width="1.1"/>
<text x="51.20" y="529.58" text-anchor="end" class="tk" textLength="18.25" lengthAdjust="spacingAndGlyphs">0.05</text>
<line x1="55.20" y1="483.77" x2="58.50" y2="483.77" stroke="#231f20" stroke-width="1.1"/>
<text x="51.20" y="487.32" text-anchor="end" class="tk" textLength="18.25" lengthAdjust="spacingAndGlyphs">0.10</text>
<line x1="55.20" y1="441.50" x2="58.50" y2="441.50" stroke="#231f20" stroke-width="1.1"/>
<text x="51.20" y="445.05" text-anchor="end" class="tk" textLength="18.25" lengthAdjust="spacingAndGlyphs">0.15</text>
<line x1="72.09" y1="568.30" x2="72.09" y2="570.50" stroke="#231f20" stroke-width="1.1"/>
<line x1="85.67" y1="568.30" x2="85.67" y2="570.50" stroke="#231f20" stroke-width="1.1"/>
<line x1="99.26" y1="568.30" x2="99.26" y2="570.50" stroke="#231f20" stroke-width="1.1"/>
<line x1="112.84" y1="568.30" x2="112.84" y2="571.60" stroke="#231f20" stroke-width="1.1"/>
<text x="113.04" y="583.60" text-anchor="middle" class="tk" textLength="5.25" lengthAdjust="spacingAndGlyphs">5</text>
<line x1="126.43" y1="568.30" x2="126.43" y2="570.50" stroke="#231f20" stroke-width="1.1"/>
<line x1="140.01" y1="568.30" x2="140.01" y2="570.50" stroke="#231f20" stroke-width="1.1"/>
<line x1="153.60" y1="568.30" x2="153.60" y2="570.50" stroke="#231f20" stroke-width="1.1"/>
<line x1="167.19" y1="568.30" x2="167.19" y2="570.50" stroke="#231f20" stroke-width="1.1"/>
<line x1="180.77" y1="568.30" x2="180.77" y2="571.60" stroke="#231f20" stroke-width="1.1"/>
<text x="180.97" y="583.60" text-anchor="middle" class="tk" textLength="10.50" lengthAdjust="spacingAndGlyphs">10</text>
<line x1="194.36" y1="568.30" x2="194.36" y2="570.50" stroke="#231f20" stroke-width="1.1"/>
<line x1="207.94" y1="568.30" x2="207.94" y2="570.50" stroke="#231f20" stroke-width="1.1"/>
<line x1="221.53" y1="568.30" x2="221.53" y2="570.50" stroke="#231f20" stroke-width="1.1"/>
<line x1="235.11" y1="568.30" x2="235.11" y2="570.50" stroke="#231f20" stroke-width="1.1"/>
<line x1="248.70" y1="568.30" x2="248.70" y2="571.60" stroke="#231f20" stroke-width="1.1"/>
<text x="248.90" y="583.60" text-anchor="middle" class="tk" textLength="10.50" lengthAdjust="spacingAndGlyphs">15</text>
<line x1="325.00" y1="438.90" x2="325.00" y2="568.90" stroke="#231f20" stroke-width="1.2"/>
<line x1="321.70" y1="568.30" x2="517.70" y2="568.30" stroke="#231f20" stroke-width="1.2"/>
<line x1="321.70" y1="568.30" x2="325.00" y2="568.30" stroke="#231f20" stroke-width="1.1"/>
<text x="317.70" y="571.85" text-anchor="end" class="tk" textLength="18.25" lengthAdjust="spacingAndGlyphs">0.00</text>
<line x1="321.70" y1="526.03" x2="325.00" y2="526.03" stroke="#231f20" stroke-width="1.1"/>
<text x="317.70" y="529.58" text-anchor="end" class="tk" textLength="18.25" lengthAdjust="spacingAndGlyphs">0.05</text>
<line x1="321.70" y1="483.77" x2="325.00" y2="483.77" stroke="#231f20" stroke-width="1.1"/>
<text x="317.70" y="487.32" text-anchor="end" class="tk" textLength="18.25" lengthAdjust="spacingAndGlyphs">0.10</text>
<line x1="321.70" y1="441.50" x2="325.00" y2="441.50" stroke="#231f20" stroke-width="1.1"/>
<text x="317.70" y="445.05" text-anchor="end" class="tk" textLength="18.25" lengthAdjust="spacingAndGlyphs">0.15</text>
<line x1="338.54" y1="568.30" x2="338.54" y2="570.50" stroke="#231f20" stroke-width="1.1"/>
<line x1="352.07" y1="568.30" x2="352.07" y2="570.50" stroke="#231f20" stroke-width="1.1"/>
<line x1="365.61" y1="568.30" x2="365.61" y2="570.50" stroke="#231f20" stroke-width="1.1"/>
<line x1="379.14" y1="568.30" x2="379.14" y2="571.60" stroke="#231f20" stroke-width="1.1"/>
<text x="379.34" y="583.60" text-anchor="middle" class="tk" textLength="5.25" lengthAdjust="spacingAndGlyphs">5</text>
<line x1="392.68" y1="568.30" x2="392.68" y2="570.50" stroke="#231f20" stroke-width="1.1"/>
<line x1="406.21" y1="568.30" x2="406.21" y2="570.50" stroke="#231f20" stroke-width="1.1"/>
<line x1="419.75" y1="568.30" x2="419.75" y2="570.50" stroke="#231f20" stroke-width="1.1"/>
<line x1="433.29" y1="568.30" x2="433.29" y2="570.50" stroke="#231f20" stroke-width="1.1"/>
<line x1="446.82" y1="568.30" x2="446.82" y2="571.60" stroke="#231f20" stroke-width="1.1"/>
<text x="447.02" y="583.60" text-anchor="middle" class="tk" textLength="10.50" lengthAdjust="spacingAndGlyphs">10</text>
<line x1="460.36" y1="568.30" x2="460.36" y2="570.50" stroke="#231f20" stroke-width="1.1"/>
<line x1="473.89" y1="568.30" x2="473.89" y2="570.50" stroke="#231f20" stroke-width="1.1"/>
<line x1="487.43" y1="568.30" x2="487.43" y2="570.50" stroke="#231f20" stroke-width="1.1"/>
<line x1="500.96" y1="568.30" x2="500.96" y2="570.50" stroke="#231f20" stroke-width="1.1"/>
<line x1="514.50" y1="568.30" x2="514.50" y2="571.60" stroke="#231f20" stroke-width="1.1"/>
<text x="514.70" y="583.60" text-anchor="middle" class="tk" textLength="10.50" lengthAdjust="spacingAndGlyphs">15</text>
<line x1="150.7" y1="202.8" x2="166.8" y2="202.8" stroke="#c8174a" stroke-width="1.8"/>
<text x="171.1" y="205.8" class="lg" textLength="35.0" lengthAdjust="spacingAndGlyphs">All t-HNs</text>
<line x1="223.8" y1="202.7" x2="239.9" y2="202.7" stroke="#20507f" stroke-width="1.8"/>
<text x="244.2" y="205.7" class="lg" textLength="87.8" lengthAdjust="spacingAndGlyphs">Other incident cancers</text>
<line x1="350.2" y1="202.8" x2="366.3" y2="202.8" stroke="#389038" stroke-width="1.8"/>
<text x="371.0" y="205.8" class="lg" textLength="27.0" lengthAdjust="spacingAndGlyphs">Deaths</text>
<line x1="148.0" y1="399.5" x2="163.7" y2="399.5" stroke="#4a2a5c" stroke-width="1.8"/>
<text x="167.9" y="402.5" class="lg" textLength="47.2" lengthAdjust="spacingAndGlyphs">t-MDS/AML</text>
<line x1="233.0" y1="399.5" x2="248.7" y2="399.5" stroke="#3ea8da" stroke-width="1.8"/>
<text x="253.6" y="402.5" class="lg" textLength="179.1" lengthAdjust="spacingAndGlyphs">Other t-HNs (t-CML, t-cMPN, t-CMML, tr-ALL)</text>
<line x1="155.8" y1="600.2" x2="171.9" y2="600.2" stroke="#c41f35" stroke-width="1.8"/>
<text x="176.0" y="603.2" class="lg" textLength="23.6" lengthAdjust="spacingAndGlyphs">t-CML</text>
<line x1="218.0" y1="600.4" x2="234.3" y2="600.4" stroke="#22664c" stroke-width="1.8"/>
<text x="238.5" y="603.4" class="lg" textLength="29.7" lengthAdjust="spacingAndGlyphs">t-cMPN</text>
<line x1="285.8" y1="600.3" x2="302.1" y2="600.3" stroke="#f0a13a" stroke-width="1.8"/>
<text x="306.0" y="603.3" class="lg" textLength="31.7" lengthAdjust="spacingAndGlyphs">t-CMML</text>
<line x1="355.6" y1="600.3" x2="371.7" y2="600.3" stroke="#4596cf" stroke-width="1.8"/>
<text x="375.8" y="603.3" class="lg" textLength="21.9" lengthAdjust="spacingAndGlyphs">tr-ALL</text>
<line x1="11.4" y1="87" x2="11.4" y2="240" stroke="#231f20" stroke-width="1.4"/>
<line x1="11.4" y1="372" x2="11.4" y2="526.2" stroke="#231f20" stroke-width="1.4"/>
<text transform="translate(15.2 356) rotate(-90)" class="cx" textLength="99.5" lengthAdjust="spacingAndGlyphs">Cumulative incidence (%)</text>
<line x1="55" y1="620.4" x2="164.5" y2="620.4" stroke="#231f20" stroke-width="1.6"/>
<line x1="409.2" y1="620.4" x2="518.2" y2="620.4" stroke="#231f20" stroke-width="1.6"/>
<text x="182.4" y="623.9" class="cx" textLength="208.4" lengthAdjust="spacingAndGlyphs">Time since diagnosis of first primary neoplasm (years)</text>
</svg></body></html>
